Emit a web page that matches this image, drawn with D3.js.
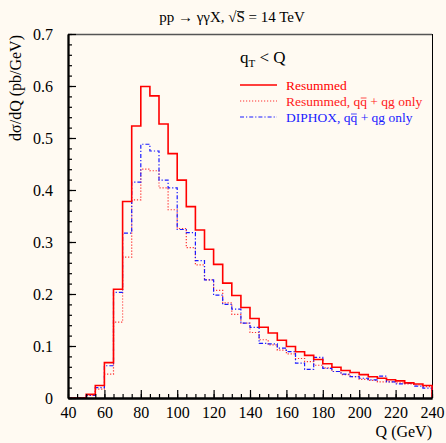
<!DOCTYPE html>
<html>
<head>
<meta charset="utf-8">
<script src="https://cdn.jsdelivr.net/npm/d3@7"></script>
<style>
  html, body { margin: 0; padding: 0; background: #fffaf2; }
  svg { display: block; }
  text { font-family: "Liberation Serif", "DejaVu Serif", serif; }
</style>
</head>
<body>
<svg id="chart" width="446" height="443"></svg>
<script>
// Diphoton invariant-mass spectrum, 5 GeV bins from 40 to 240 GeV
const binEdges = d3.range(40, 241, 5);

// Resummed, all channels
const resummed = [
  0, 0, 0.007, 0.024, 0.068, 0.209, 0.378, 0.523, 0.599, 0.581,
  0.527, 0.470, 0.419, 0.368, 0.323, 0.286, 0.257, 0.221, 0.197, 0.174,
  0.153, 0.136, 0.125, 0.111, 0.099, 0.089, 0.082, 0.074, 0.066, 0.059,
  0.053, 0.049, 0.045, 0.041, 0.038, 0.035, 0.033, 0.029, 0.027, 0.024
];

// Resummed, q qbar + qg only
const resummedQQ = [
  0, 0, 0.005, 0.017, 0.046, 0.146, 0.271, 0.381, 0.440, 0.437,
  0.404, 0.362, 0.326, 0.289, 0.256, 0.227, 0.207, 0.183, 0.161, 0.144,
  0.126, 0.112, 0.102, 0.092, 0.085, 0.076, 0.070, 0.063, 0.058, 0.051,
  0.045, 0.041, 0.036, 0.034, 0.031, 0.031, 0.029, 0.027, 0.025, 0.022
];

// DIPHOX, q qbar + qg only
const diphoxQQ = [
  0, 0, 0.005, 0.020, 0.062, 0.203, 0.317, 0.415, 0.488, 0.475,
  0.419, 0.404, 0.324, 0.318, 0.264, 0.227, 0.198, 0.180, 0.171, 0.144,
  0.136, 0.105, 0.104, 0.096, 0.089, 0.067, 0.055, 0.078, 0.057, 0.051,
  0.046, 0.041, 0.038, 0.035, 0.042, 0.031, 0.027, 0.028, 0.023, 0.019
];

const xTickValues = d3.range(40, 241, 20);
const yTickValues = d3.range(0, 0.71, 0.1);
const yTickLabels = ["0", "0.1", "0.2", "0.3", "0.4", "0.5", "0.6", "0.7"];

const svg = d3.select("#chart");
const plotLeft = 68, plotRight = 432, plotTop = 34, plotBottom = 398;

const x = d3.scaleLinear().domain([40, 240]).range([plotLeft, plotRight]);
const y = d3.scaleLinear().domain([0, 0.7]).range([plotBottom, plotTop]);

// Frame: grey top edge, thin black right edge
svg.append("line")
  .attr("x1", plotLeft).attr("x2", plotRight).attr("y1", plotTop + 0.5).attr("y2", plotTop + 0.5)
  .attr("stroke", "#555").attr("stroke-width", 1.6);
svg.append("line")
  .attr("x1", plotRight + 0.5).attr("x2", plotRight + 0.5).attr("y1", plotTop).attr("y2", plotBottom)
  .attr("stroke", "#000").attr("stroke-width", 1);

// Histogram step outlines
function stepPoints(vals) {
  const pts = [[binEdges[0], 0]];
  vals.forEach((v, i) => {
    pts.push([binEdges[i], v]);
    pts.push([binEdges[i + 1], v]);
  });
  pts.push([binEdges[binEdges.length - 1], 0]);
  return pts;
}
const line = d3.line().x(d => x(d[0])).y(d => y(d[1]));

const series = [
  { name: "resummedQQ", vals: resummedQQ, color: "#ff3030", width: 1.2, dash: "1.2,1.8" },
  { name: "diphoxQQ", vals: diphoxQQ, color: "#1a1aff", width: 1.2, dash: "4,2,1.2,2" },
  { name: "resummed", vals: resummed, color: "#ff0000", width: 1.6, dash: null }
];

series.forEach(s => {
  svg.append("path")
    .attr("class", s.name)
    .attr("d", line(stepPoints(s.vals)))
    .attr("fill", "none")
    .attr("stroke", s.color)
    .attr("stroke-width", s.width)
    .attr("stroke-dasharray", s.dash);
});

// Axes with inward ticks
const yAxisMajor = d3.axisLeft(y).tickValues(yTickValues)
  .tickSizeInner(-8).tickSizeOuter(0).tickPadding(15)
  .tickFormat((d, i) => yTickLabels[i]);
const yAxisMinor = d3.axisLeft(y).tickValues(d3.range(0, 0.701, 0.02))
  .tickSizeInner(-4).tickSizeOuter(0).tickFormat("");

const xAxisMajor = d3.axisBottom(x).tickValues(xTickValues)
  .tickSizeInner(-8).tickSizeOuter(0).tickPadding(9)
  .tickFormat(d3.format("d"));
const xAxisMinor = d3.axisBottom(x).tickValues(d3.range(40, 241, 5))
  .tickSizeInner(-4).tickSizeOuter(0).tickFormat("");

function styleAxis(g) {
  g.select(".domain").attr("stroke", "#000").attr("stroke-width", 1.8);
  g.selectAll(".tick line").attr("stroke", "#000").attr("stroke-width", 1.2);
  g.selectAll(".tick text")
    .attr("font-family", "Liberation Serif, serif")
    .attr("font-size", 16).attr("fill", "#000");
}

svg.append("g").attr("transform", `translate(${plotLeft},0)`).call(yAxisMinor).call(styleAxis);
svg.append("g").attr("transform", `translate(${plotLeft},0)`).call(yAxisMajor).call(styleAxis);
svg.append("g").attr("transform", `translate(0,${plotBottom})`).call(xAxisMinor).call(styleAxis);
svg.append("g").attr("transform", `translate(0,${plotBottom})`).call(xAxisMajor).call(styleAxis);

// Draws a bar over the glyph at charIndex of a text element
function overlineChar(textSel, charIndex, color, lift) {
  const node = textSel.node();
  const box = node.getExtentOfChar(charIndex);
  const yy = box.y + (lift || 0);
  svg.append("line")
    .attr("x1", box.x + 0.5).attr("x2", box.x + box.width - 0.5)
    .attr("y1", yy).attr("y2", yy)
    .attr("stroke", color).attr("stroke-width", 0.8);
}

// Title
const titleStr = "pp → γγX, √S = 14 TeV";
const title = svg.append("text")
  .attr("x", 232).attr("y", 22).attr("text-anchor", "middle")
  .attr("font-size", 15).attr("fill", "#000")
  .text(titleStr);
overlineChar(title, titleStr.indexOf("S"), "#000", 2.5);

// Axis titles
svg.append("text")
  .attr("x", plotRight).attr("y", 437).attr("text-anchor", "end")
  .attr("font-size", 16).attr("fill", "#000")
  .text("Q (GeV)");

svg.append("text")
  .attr("transform", "translate(21,35) rotate(-90)")
  .attr("text-anchor", "end")
  .attr("font-size", 16).attr("fill", "#000")
  .text("dσ/dQ (pb/GeV)");

// Legend
const cut = svg.append("text").attr("x", 240).attr("y", 63)
  .attr("font-size", 17).attr("fill", "#000");
cut.append("tspan").text("q");
cut.append("tspan").attr("font-size", 11).attr("dy", 4).text("T");
cut.append("tspan").attr("dy", -4).text(" < Q");

const legendRows = [
  { label: "Resummed", color: "#ff0000", lineColor: "#ff0000", width: 1.6, dash: null },
  { label: "Resummed, qq + qg only", color: "#ff2020", lineColor: "#ff3030", width: 1.2, dash: "1.2,1.8" },
  { label: "DIPHOX, qq + qg only", color: "#1a1aff", lineColor: "#1a1aff", width: 1.2, dash: "4,2,1.2,2" }
];

legendRows.forEach((r, i) => {
  const ly = 85 + i * 16;
  svg.append("line")
    .attr("x1", 240).attr("x2", 277).attr("y1", ly).attr("y2", ly)
    .attr("stroke", r.lineColor).attr("stroke-width", r.width)
    .attr("stroke-dasharray", r.dash);
  const t = svg.append("text").attr("x", 286).attr("y", ly + 4.5)
    .attr("font-size", 13.5).attr("fill", r.color)
    .text(r.label);
  const qq = r.label.indexOf("qq");
  if (qq >= 0) overlineChar(t, qq + 1, r.color, 4.5);
});
</script>
</body>
</html>
